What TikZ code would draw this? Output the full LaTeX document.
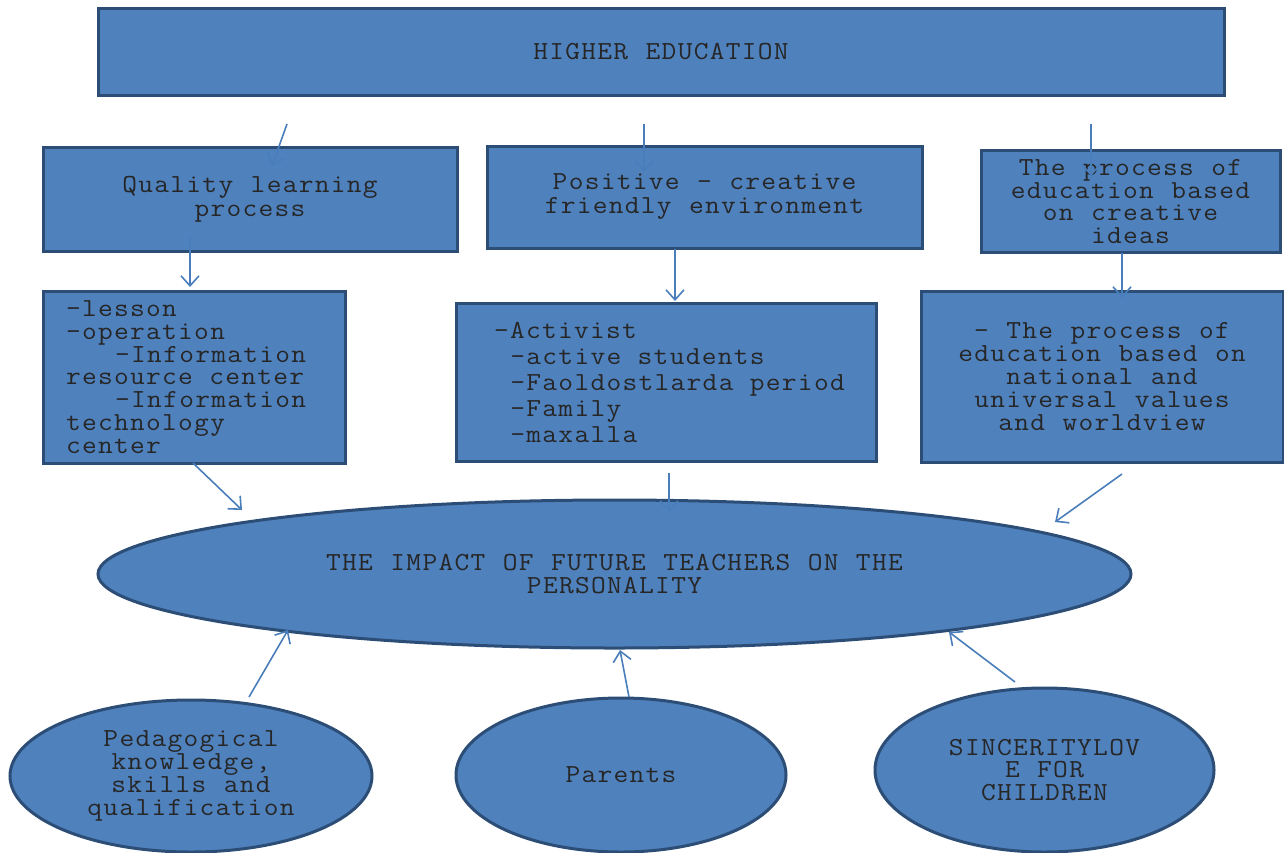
\documentclass[tikz,border=0pt]{standalone}
\usepackage{fontspec}
\setmainfont[FakeStretch=1.1,LetterSpace=5,WordSpace={1.09,0,0}]{Latin Modern Mono}
\usetikzlibrary{arrows.meta,shapes.geometric}

\definecolor{boxblue}{HTML}{4F81BD}
\definecolor{boxedge}{HTML}{2C4D75}
\definecolor{arrowblue}{HTML}{4A7EBB}

\newcommand{\tspc}{\hspace*{8.2pt}}

\tikzset{
  blk/.style={draw=boxedge,line width=1.5pt,fill=boxblue,text=black!85,
    align=center,inner sep=0pt,font=\fontsize{13}{11.4}\selectfont},
  rbox/.style={blk,rectangle},
  oval/.style={blk,ellipse},
  link/.style={draw=arrowblue,line width=0.8pt,-{Straight Barb[length=5pt,width=9pt]}}
}

\begin{document}
\begin{tikzpicture}[x=0.5pt,y=-0.5pt]
  \useasboundingbox (0,0) rectangle (1284,852);

  % boxes
  \node[rbox,minimum width=563pt,minimum height=43.5pt] (higher) at (661,51.5) {HIGHER EDUCATION};
  \node[rbox,minimum width=207pt,minimum height=52pt,font=\fontsize{13}{12}\selectfont] (quality) at (250,199) {Quality learning\\process};
  \node[rbox,minimum width=217.5pt,minimum height=51pt,font=\fontsize{13}{12}\selectfont] (positive) at (704.5,197) {Positive - creative\\friendly environment};
  \node[rbox,minimum width=149.5pt,minimum height=51pt] (creative) at (1130.5,201.5) {The process of\\education based\\on creative\\ideas};
  \node[rbox,minimum width=151pt,minimum height=86pt,text width=128pt,align=left] (lesson) at (194,377)
    {-lesson\\-operation\\\tspc\tspc\tspc-Information\\resource\tspc center\\\tspc\tspc\tspc-Information\\technology\\center};
  \node[rbox,minimum width=210pt,minimum height=79pt,text width=172pt,align=left,font=\fontsize{13}{13}\selectfont] (activist) at (666,382)
    {-Activist\\\tspc-active\tspc students\\\mbox{\tspc-Faoldostlarda\tspc period}\\\tspc-Family\\\tspc-maxalla};
  \node[rbox,minimum width=181pt,minimum height=85.5pt] (values) at (1102,376.5)
    {- The process of\\education based on\\national and\\universal values\\and worldview};

  % ovals
  \node[oval,minimum width=516.5pt,minimum height=74pt] (impact) at (614.5,574) {THE IMPACT OF FUTURE TEACHERS ON THE\\PERSONALITY};
  \node[oval,minimum width=181pt,minimum height=76pt] (pedag) at (191,776) {Pedagogical\\knowledge,\\skills and\\qualification};
  \node[oval,minimum width=165pt,minimum height=77pt] (parents) at (621,775) {Parents};
  \node[oval,minimum width=169.5pt,minimum height=82pt] (sincere) at (1044.5,770) {SINCERITYLOV\\E FOR\\CHILDREN};

  % arrow ends
  \coordinate (h1) at (287,124);   \coordinate (q1) at (272,166);
  \coordinate (h2) at (644,124);   \coordinate (p1) at (644,172);
  \coordinate (h3) at (1091,124);  \coordinate (c1) at (1091,176);
  \coordinate (q2) at (190,237);   \coordinate (l1) at (190,287);
  \coordinate (p2) at (675,249);   \coordinate (a1) at (675,301);
  \coordinate (c2) at (1122,253);  \coordinate (v1) at (1122,298);
  \coordinate (l2) at (193,463);   \coordinate (i1) at (242,510);
  \coordinate (a2) at (669,473);   \coordinate (i2) at (669,512);
  \coordinate (v2) at (1122,474);  \coordinate (i3) at (1055,522);
  \coordinate (e1) at (249,697);   \coordinate (i4) at (288,630);
  \coordinate (e2) at (629,697);   \coordinate (i5) at (620,650);
  \coordinate (e3) at (1015,682);  \coordinate (i6) at (949,632);

  % arrows
  \draw[link] (h1) -- (q1);
  \draw[link] (h2) -- (p1);
  \draw[link] (h3) -- (c1);
  \draw[link] (q2) -- (l1);
  \draw[link] (p2) -- (a1);
  \draw[link] (c2) -- (v1);
  \draw[link] (l2) -- (i1);
  \draw[link] (a2) -- (i2);
  \draw[link] (v2) -- (i3);
  \draw[link] (e1) -- (i4);
  \draw[link] (e2) -- (i5);
  \draw[link] (e3) -- (i6);
\end{tikzpicture}
\end{document}
